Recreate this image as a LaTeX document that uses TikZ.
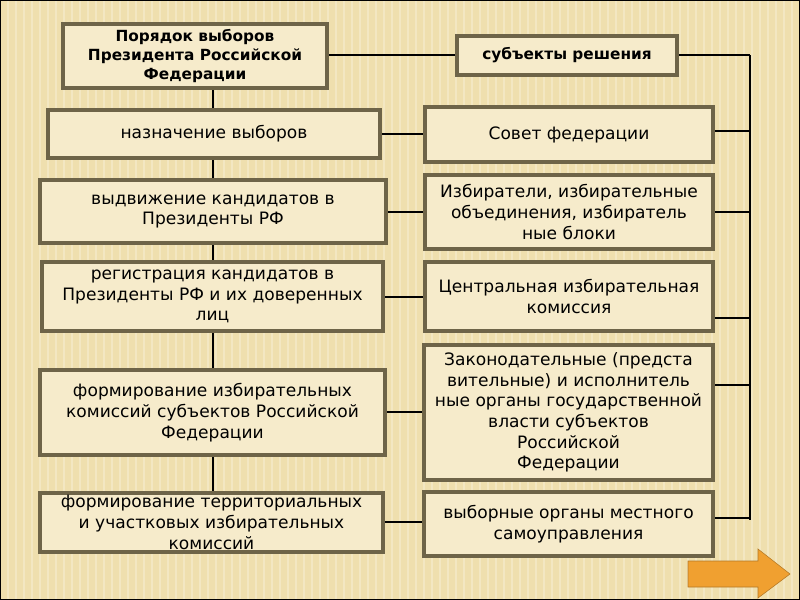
\documentclass[tikz,border=0pt]{standalone}
\usepackage{fontspec}
\setmainfont{DejaVu Sans}
\definecolor{bgc}{HTML}{EFDFAE}
\definecolor{boxf}{HTML}{F6EBCB}
\definecolor{boxd}{HTML}{6E6448}
\definecolor{arr}{HTML}{F0A030}
\tikzset{
 box/.style={draw=boxd,line width=3.2pt,fill=boxf,inner sep=0pt,align=center,font=\fontsize{12.8}{15.5}\selectfont},
 ln/.style={line width=2pt,black}
}
\begin{document}
\begin{tikzpicture}[x=0.75pt,y=-0.75pt]
\useasboundingbox (0,0) rectangle (800,600);
\fill[bgc] (0,0) rectangle (800,600);
\foreach \i in {0,8,...,800} \draw[white,opacity=0.25,line width=1.5pt] (\i,0) -- (\i,600);
\draw[black] (0.5,0.5) rectangle (799.5,599.5);
% connectors first
\coordinate (bt) at (750,55);
\coordinate (bb) at (750,520);
\draw[ln] (213,56) -- (213,520);
\draw[ln] (bt) -- (bb);
\draw[ln] (300,55) -- (bt);
\foreach \y in {134,212,297,412,522} \draw[ln] (300,\y) -- (600,\y);
\foreach \y in {131,212,318,385,518} \draw[ln] (600,\y) -- (750,\y);
% left column
\node[box,minimum width=198pt,minimum height=48pt,font=\fontsize{11.5}{14}\selectfont\bfseries] (l0) at (195,56) {Порядок выборов\\Президента Российской\\Федерации};
\node[box,minimum width=249pt,minimum height=36pt] (l1) at (214,134) {назначение выборов};
\node[box,minimum width=259.5pt,minimum height=47pt] (l2) at (213,211.5) {выдвижение кандидатов в\\Президенты РФ};
\node[box,minimum width=255.75pt,minimum height=51.75pt] (l3) at (212.5,296.5) {регистрация кандидатов в\\Президенты РФ и их доверенных\\лиц};
\node[box,minimum width=258.75pt,minimum height=63.75pt] (l4) at (212.5,412.5) {формирование избирательных\\комиссий субъектов Российской\\Федерации};
\node[box,minimum width=257.25pt,minimum height=44.25pt] (l5) at (211.5,522.5) {формирование территориальных\\и участковых избирательных\\комиссий};
% right column
\node[box,minimum width=165pt,minimum height=29pt,font=\fontsize{11.5}{14}\selectfont\bfseries] (r0) at (567,55.5) {субъекты решения};
\node[box,minimum width=216pt,minimum height=41pt] (r1) at (569,134.5) {Совет федерации};
\node[box,minimum width=216pt,minimum height=55.5pt] (r2) at (569,212) {Избиратели, избирательные\\объединения, избиратель\\ные блоки};
\node[box,minimum width=216pt,minimum height=51.75pt] (r3) at (569,296.5) {Центральная избирательная\\комиссия};
\node[box,minimum width=216.75pt,minimum height=101.25pt] (r4) at (568.5,412.5) {Законодательные (предста\\вительные) и исполнитель\\ные органы государственной\\власти субъектов\\Российской\\Федерации};
\node[box,minimum width=216.75pt,minimum height=48pt] (r5) at (568.5,524) {выборные органы местного\\самоуправления};
% arrow
\fill[arr,draw=arr!75!black] (688,561) -- (758,561) -- (758,549) -- (790,574) -- (758,598) -- (758,587) -- (688,587) -- cycle;
\end{tikzpicture}
\end{document}
